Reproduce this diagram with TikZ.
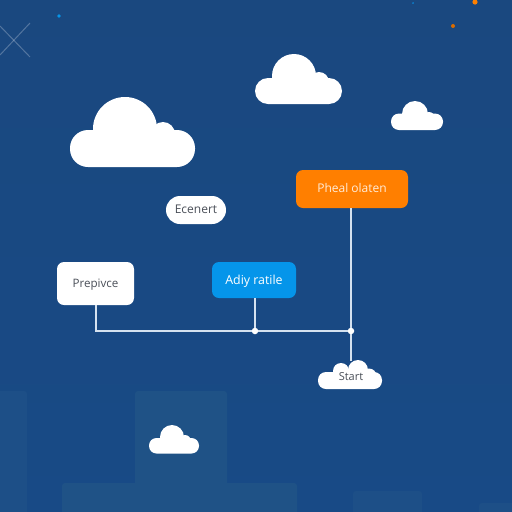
\documentclass[tikz,border=0pt]{standalone}
\usepackage{fontspec}
\setmainfont{Open Sans}
\usetikzlibrary{calc}
\definecolor{bgTop}{HTML}{1A487F}
\definecolor{bgBot}{HTML}{184A86}
\definecolor{bldg}{HTML}{1F5286}
\definecolor{bldgB}{HTML}{1D4F87}
\definecolor{wire}{HTML}{D5E2F0}
\definecolor{orangeBox}{HTML}{FF7F00}
\definecolor{blueBox}{HTML}{0595EA}
\definecolor{ink}{HTML}{4A4F58}
\tikzset{
  x=1pt,y=-1pt,
  cloudfill/.style={fill=white,draw=none},
  bldgshape/.style={fill=bldg,draw=none,rounded corners=3pt},
  bldgshapeB/.style={fill=bldgB,draw=none,rounded corners=3pt},
  boxtext/.style={text height=9pt,text depth=2pt,inner sep=0pt,draw=none},
  lightbox/.style={boxtext,fill=white,rounded corners=7pt,text=ink,font=\fontsize{11.6}{13}\selectfont},
  orangebox/.style={boxtext,fill=orangeBox,rounded corners=7pt,text=white!85!orange,font=\fontsize{12}{14}\selectfont},
  bluebox/.style={boxtext,text height=10pt,fill=blueBox,rounded corners=7pt,text=white,font=\fontsize{12.4}{14}\selectfont},
  pill/.style={boxtext,fill=white,rounded corners=14pt,text=ink,font=\fontsize{12}{14}\selectfont},
  wireline/.style={draw=wire,line width=1.2pt},
  junction/.style={circle,fill=white,draw=none,minimum size=6.5pt,inner sep=0pt},
  speck/.style={fill=#1,draw=none},
  crossline/.style={draw=white,opacity=.25,line width=1pt},
}
\begin{document}
\begin{tikzpicture}
\useasboundingbox (0,0) rectangle (512,512);
\shade[top color=bgTop,bottom color=bgBot] (0,0) rectangle (512,512);
% backdrop blocks
\fill[bldgshapeB] (-5,391) rectangle (27,517);
\fill[bldgshape] (135,391) rectangle (227,517);
\fill[bldgshape] (62,483) rectangle (297,517);
\fill[bldgshapeB] (353,491) rectangle (422,517);
\fill[bldgshapeB] (479,503) rectangle (517,517);
% cross
\draw[crossline] (0,26) -- (30,57);
\draw[crossline] (30,23) -- (0,55);
% specks
\fill[speck=blueBox] (59,16) circle (1.8);
\fill[speck=blueBox!70!bgTop] (413,3) circle (1);
\fill[speck=orange!85!black] (453,26) circle (2);
\fill[speck=orange] (475,2) circle (2.6);
% large cloud
\fill[cloudfill,rounded corners=18pt] (70,130) rectangle (195,167);
\fill[cloudfill] (125,129) circle (32);
\fill[cloudfill] (163,134) circle (12);
% top cloud
\fill[cloudfill,rounded corners=13pt] (255,78) rectangle (342,104);
\fill[cloudfill] (294,76) circle (22);
\fill[cloudfill] (319,82) circle (10);
% right cloud
\fill[cloudfill,rounded corners=8pt] (391,113.5) rectangle (443,130);
\fill[cloudfill] (415,114) circle (13);
\fill[cloudfill] (429,118) circle (6);
% bottom cloud
\fill[cloudfill,rounded corners=7.5pt] (149,438) rectangle (199,453.5);
\fill[cloudfill] (172,437) circle (12);
\fill[cloudfill] (185,441) circle (6);
% start cloud
\fill[cloudfill,rounded corners=8pt] (318,372) rectangle (382,389);
\fill[cloudfill] (358,370) circle (10);
\fill[cloudfill] (341,371) circle (8);
\fill[cloudfill] (369,376) circle (7.5);
% boxes
\node[lightbox,minimum width=77pt,minimum height=43pt] (prep) at (95.5,283.5) {Prepivce};
\node[pill,minimum width=60pt,minimum height=28pt] (elem) at (196,210) {Ecenert};
\node[orangebox,minimum width=112pt,minimum height=38pt] (heat) at (352,189) {Pheal olaten};
\node[bluebox,minimum width=84pt,minimum height=36pt] (apply) at (254,280) {Adiy ratile};
\node[font=\fontsize{11}{13}\selectfont,text=ink,inner sep=0pt] (start) at (351,377) {Start};
% connectors
\node[junction] (j1) at (255,331) {};
\node[junction] (j2) at (351,331) {};
\coordinate (cloudtop) at (351,361);
\coordinate (corner) at (96,331);
\draw[wireline] (prep.south -| corner) -- (corner) -- (j1) -- (j2);
\draw[wireline] (apply.south -| j1) -- (j1);
\draw[wireline] (heat.south -| j2) -- (j2) -- (cloudtop);
\end{tikzpicture}
\end{document}
